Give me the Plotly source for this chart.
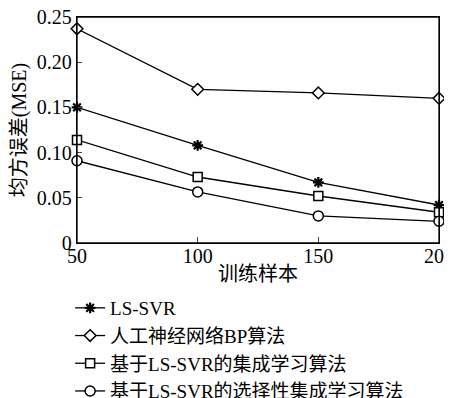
import plotly.graph_objects as go

x_vals = [50, 100, 150, 200]
lssvr = [0.150, 0.108, 0.067, 0.042]
bp = [0.237, 0.170, 0.166, 0.160]
ens = [0.114, 0.073, 0.052, 0.034]
sel = [0.091, 0.0565, 0.030, 0.024]

names = ["LS-SVR", "人工神经网络BP算法", "基于LS-SVR的集成学习算法", "基于LS-SVR的选择性集成学习算法"]
symbols = ["asterisk-open", "diamond", "square", "circle"]
sizes = [9, 9, 9, 10]

y_ticks = [0, 0.05, 0.10, 0.15, 0.20, 0.25]
y_ticktext = ["0", "0.05", "0.10", "0.15", "0.20", "0.25"]
x_ticks = [50, 100, 150, 200]

FONT = "Liberation Serif, Times New Roman, Noto Sans CJK SC, serif"

fig = go.Figure()
for name, ys, sym, sz in zip(names, [lssvr, bp, ens, sel], symbols, sizes):
    is_star = sym == "asterisk-open"
    fig.add_trace(go.Scatter(
        x=x_vals, y=ys, mode="lines+markers", name=name, cliponaxis=False,
        line=dict(color="black", width=1.3),
        marker=dict(symbol=sym, size=sz, color="black" if is_star else "white",
                    line=dict(color="black", width=2.2 if is_star else 1.5)),
    ))

# page body has an 8px margin, so the figure is sized to fill the rest of the window
fig.update_layout(
    width=444, height=390,
    margin=dict(l=69, r=13, t=9, b=155, autoexpand=False),
    paper_bgcolor="white", plot_bgcolor="white",
    font=dict(family=FONT, size=20, color="black"),
    legend=dict(x=-0.019, y=-0.2035, xanchor="left", yanchor="top",
                font=dict(size=19, family=FONT), bgcolor="rgba(0,0,0,0)",
                tracegroupgap=0, itemwidth=30),
    showlegend=True,
    shapes=[dict(type="rect", xref="paper", yref="paper", x0=0, x1=1, y0=0, y1=1,
                 line=dict(color="black", width=1.3), fillcolor="rgba(0,0,0,0)",
                 layer="above")],
)
fig.update_xaxes(range=[50, 200], tickvals=x_ticks, ticks="inside", ticklen=6,
                 ticklabeloverflow="allow", automargin=False, ticklabelstandoff=-5,
                 showline=True, linecolor="black", linewidth=1.3, mirror=True,
                 showgrid=False, zeroline=False,
                 title=dict(text="训练样本", standoff=0, font=dict(size=20)))
fig.update_yaxes(range=[0, 0.25], tickvals=y_ticks, ticktext=y_ticktext,
                 ticks="inside", ticklen=5, automargin=False,
                 ticklabeloverflow="allow",
                 showline=True, linecolor="black", linewidth=1.3, mirror=True,
                 showgrid=False, zeroline=False,
                 title=dict(text="均方误差(MSE)", standoff=10, font=dict(size=20)))
fig.write_html("out.html")
